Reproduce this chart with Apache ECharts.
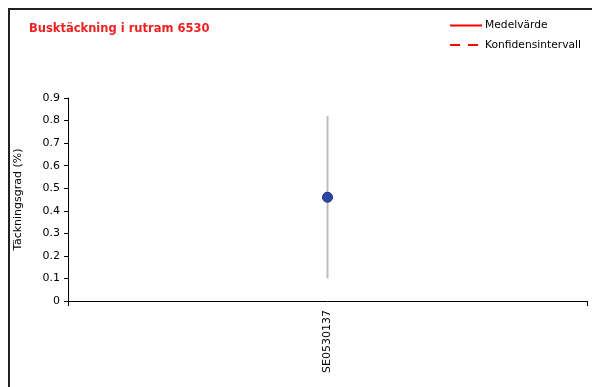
<!DOCTYPE html>
<html><head><meta charset="utf-8">
<script src="https://cdn.jsdelivr.net/npm/echarts@6/dist/echarts.min.js"></script>
<style>html,body{margin:0;padding:0;background:#fff}#c{width:592px;height:387px}</style>
</head><body><div id="c"></div>
<script>
var categories = ['SE0530137'];
var meanValues = [0.46];
var ciLow = [0.10];
var ciHigh = [0.82];
var yTicks = [0, 0.1, 0.2, 0.3, 0.4, 0.5, 0.6, 0.7, 0.8, 0.9];

var chart = echarts.init(document.getElementById('c'));
var F = 'DejaVu Sans';
chart.setOption({
  animation: false,
  title: {text: 'Busktäckning i rutram 6530', left: 24, top: 18,
    textStyle: {color: '#ee2020', fontFamily: F, fontSize: 11.5, fontWeight: 'bold'}},
  legend: {orient: 'vertical', right: 6, top: 15, itemWidth: 32, itemHeight: 10, itemGap: 8.5,
    itemStyle: {opacity: 0},
    textStyle: {fontFamily: F, fontSize: 10.7, color: '#000', padding: [0,0,0,-2]},
    data: ['Medelvärde', 'Konfidensintervall']},
  graphic: [{type: 'polyline', shape: {points: [[9, 400], [9, 9], [600, 9]]},
    style: {stroke: '#222', lineWidth: 2, fill: null}, silent: true}],
  grid: {left: 68, right: 5, top: 98, bottom: 86},
  xAxis: {type: 'category', data: categories, boundaryGap: true,
    axisLine: {lineStyle: {color: '#000', width: 1}},
    axisTick: {show: true, length: 5, lineStyle: {color: '#000'}},
    axisLabel: {rotate: 90, fontFamily: F, fontSize: 11, color: '#000', margin: 9}},
  yAxis: {type: 'value', min: yTicks[0], max: yTicks[yTicks.length - 1], interval: 0.1,
    name: 'Täckningsgrad (%)', nameLocation: 'middle', nameGap: 44,
    nameTextStyle: {fontFamily: F, fontSize: 11, color: '#000'},
    axisLine: {show: true, lineStyle: {color: '#000'}},
    axisTick: {show: true, length: 4, lineStyle: {color: '#000'}},
    axisLabel: {fontFamily: F, fontSize: 11, color: '#000', margin: 8,
      formatter: function (v) { return String(Math.round(v * 10) / 10); }},
    splitLine: {show: false}},
  series: [
    {name: 'Medelvärde', type: 'line', data: [], symbol: 'none',
      lineStyle: {color: '#ff0000', width: 1}, itemStyle: {color: '#ff0000'}},
    {name: 'Konfidensintervall', type: 'line', data: [], symbol: 'none',
      lineStyle: {color: '#ff0000', width: 1, type: [10, 8]}, itemStyle: {color: '#ff0000'}},
    {type: 'custom', data: categories.map(function (c, i) { return [i, ciLow[i], ciHigh[i]]; }),
      renderItem: function (params, api) {
        var p1 = api.coord([api.value(0), api.value(1)]);
        var p2 = api.coord([api.value(0), api.value(2)]);
        return {type: 'line', shape: {x1: p1[0], y1: p1[1], x2: p2[0], y2: p2[1]},
          style: {stroke: '#bdbdbd', lineWidth: 2}};
      }, z: 2},
    {type: 'scatter', data: meanValues, symbol: 'circle', symbolSize: 10, z: 3,
      itemStyle: {color: '#2c48a6', borderColor: '#1a2a70', borderWidth: 1, opacity: 1}}
  ]
});
</script></body></html>
